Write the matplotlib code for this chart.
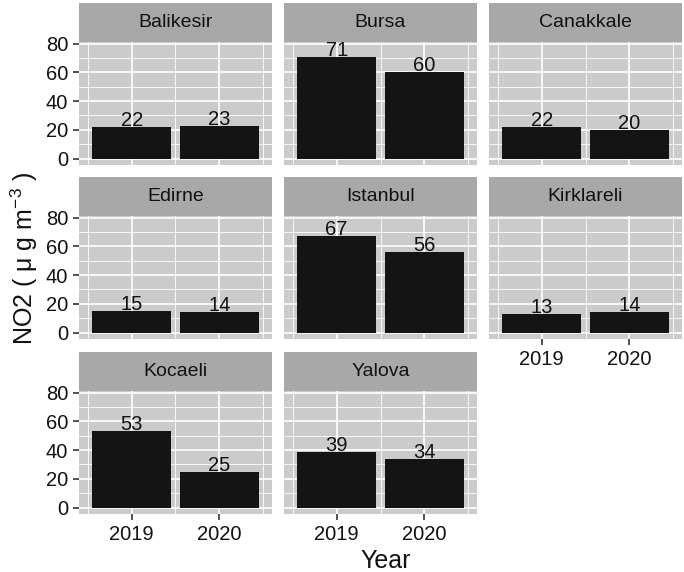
import matplotlib.pyplot as plt
import matplotlib.transforms as mtransforms
import numpy as np

plt.rcParams['font.family'] = ['Liberation Sans', 'DejaVu Sans']

# veriler
cities = ["Balikesir", "Bursa", "Canakkale", "Edirne", "Istanbul",
          "Kirklareli", "Kocaeli", "Yalova"]
years = ["2019", "2020"]
no2_2019 = [22, 71, 22, 15, 67, 13, 53, 39]
no2_2020 = [23, 60, 20, 14, 56, 14, 25, 34]

W, H = 684, 572
fig = plt.figure(figsize=(W / 100, H / 100), dpi=100)

panel_bg = "#CBCBCB"
strip_bg = "#A8A8A8"
bar_col = "#141414"
txt_col = "#111111"

# panel konumlari (piksel)
col_x = [79, 284, 489]
pw = 193
row_top = [3, 177, 352]
sh = 39
ph = 123

def px_box(x, y, w, h):
    return [x / W, 1 - (y + h) / H, w / W, h / H]

for i, city in enumerate(cities):
    r, c = divmod(i, 3)
    x0 = col_x[c]
    y0 = row_top[r]
    ax = fig.add_axes(px_box(x0, y0 + sh, pw, ph))
    ax.set_facecolor(panel_bg)
    xs = np.arange(1, len(years) + 1)
    vals = [no2_2019[i], no2_2020[i]]
    ax.bar(xs, vals, width=0.9, color=bar_col, zorder=3)
    off = mtransforms.offset_copy(ax.transData, fig=fig, x=0, y=1, units="dots")
    for xv, v in zip(xs, vals):
        ax.text(xv, v, str(v), ha="center", va="baseline", fontsize=14.5,
                color=txt_col, zorder=4, transform=off, clip_on=False)
    ax.set_xlim(0.4, 2.6)
    ax.set_ylim(-4.5, 81.2)
    ax.set_yticks([0, 20, 40, 60, 80])
    ax.set_yticks([10, 30, 50, 70], minor=True)
    ax.set_xticks(xs)
    ax.set_xticks([0.5, 1.5, 2.5], minor=True)
    ax.grid(which="major", color="white", lw=1.2, zorder=1)
    ax.grid(which="minor", color="white", lw=0.6, zorder=1)
    for s in ax.spines.values():
        s.set_visible(False)
    ax.tick_params(which="minor", length=0)
    ax.tick_params(which="major", length=4.3, width=1.2, color="#333333",
                   labelsize=14.5, labelcolor=txt_col, pad=3.5)
    if c == 0:
        ax.set_yticklabels(["0", "20", "40", "60", "80"])
    else:
        ax.tick_params(axis="y", length=0, labelleft=False)
    bottom = (r == 2) or (i == 5)
    if bottom:
        ax.set_xticklabels(years)
    else:
        ax.tick_params(axis="x", length=0, labelbottom=False)

    sax = fig.add_axes(px_box(x0, y0, pw, sh))
    sax.set_facecolor(strip_bg)
    sax.set_xticks([])
    sax.set_yticks([])
    for s in sax.spines.values():
        s.set_visible(False)
    sax.text(0.5, 0.5, city, ha="center", va="center", fontsize=14,
             color=txt_col, transform=sax.transAxes)

fig.text(386 / W, 1 - 561 / H, "Year", ha="center", va="center",
         fontsize=18, color=txt_col)
fig.text(24 / W, 1 - 258 / H, r"NO2 ( $\mathregular{\mu}$ g m$^{\mathregular{-3}}$ )",
         ha="center", va="center", rotation=90, fontsize=18, color=txt_col)

fig.savefig("out.png", dpi=100)
